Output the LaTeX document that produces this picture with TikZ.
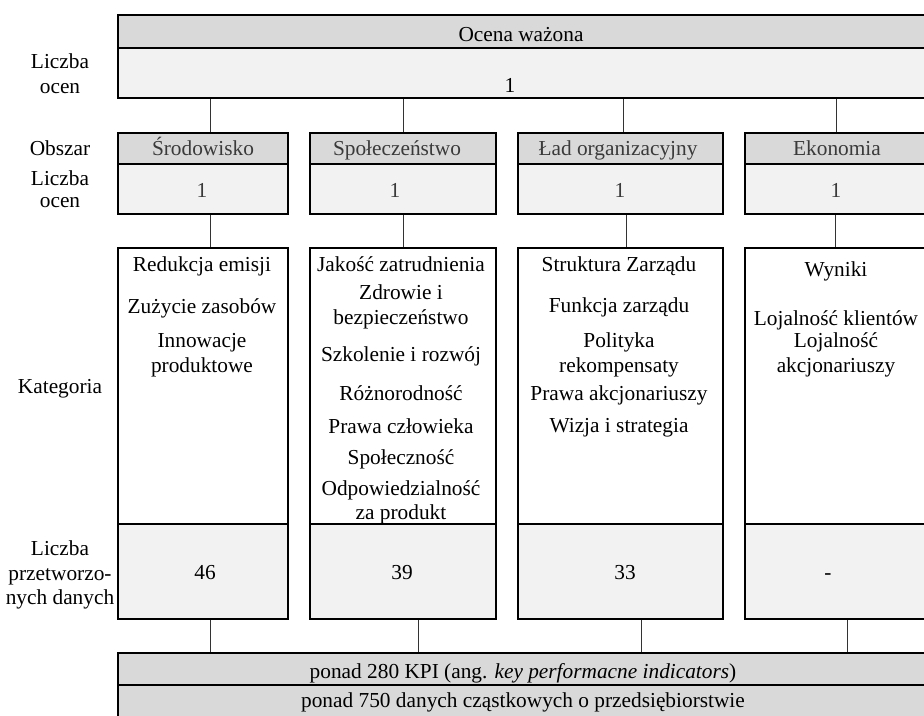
\documentclass[tikz,border=0pt]{standalone}
\usepackage{fontspec}
\setmainfont{Liberation Serif}
\definecolor{hdr}{HTML}{D9D9D9}
\definecolor{lite}{HTML}{F2F2F2}
\definecolor{conncol}{HTML}{333333}
\definecolor{areatxt}{HTML}{3A3A3A}
\begin{document}
\begin{tikzpicture}[x=0.75pt,y=-0.75pt,
  box/.style={draw=black, line width=1.5pt, inner sep=0pt, anchor=north west},
  conn/.style={draw=conncol, line width=0.75pt},
  t/.style={font=\fontsize{16pt}{18.75pt}\selectfont, inner sep=0pt, anchor=base},
  ta/.style={t, text=areatxt}]
\useasboundingbox (0,0) rectangle (924,715);
% top box
\node[box, fill=hdr, minimum width=609.75pt, minimum height=24.75pt] (top1) at (117,14) {};
\node[box, fill=lite, minimum width=609.75pt, minimum height=37.5pt] (top2) at (117,47) {};
\node[t] (toptxt) at (521,41) {Ocena ważona};
\node[t] (topone) at (510,92) {1};
\node[t] (lab1a) at (60,68) {Liczba};
\node[t] (lab1b) at (60,93) {ocen};
% area boxes
\node[box, fill=hdr, minimum width=127.5pt, minimum height=23.5pt] (a1h) at (117,131.7) {};
\node[box, fill=lite, minimum width=127.5pt, minimum height=37.5pt] (a1n) at (117,163) {};
\node[box, fill=hdr, minimum width=139.5pt, minimum height=23.5pt] (a2h) at (309,131.7) {};
\node[box, fill=lite, minimum width=139.5pt, minimum height=37.5pt] (a2n) at (309,163) {};
\node[box, fill=hdr, minimum width=153.75pt, minimum height=23.5pt] (a3h) at (517,131.7) {};
\node[box, fill=lite, minimum width=153.75pt, minimum height=37.5pt] (a3n) at (517,163) {};
\node[box, fill=hdr, minimum width=139.5pt, minimum height=23.5pt] (a4h) at (744,131.7) {};
\node[box, fill=lite, minimum width=139.5pt, minimum height=37.5pt] (a4n) at (744,163) {};
\node[ta] (a1t) at (203,155) {Środowisko};
\node[ta] (a2t) at (397,155) {Społeczeństwo};
\node[ta] (a3t) at (618,155) {Ład organizacyjny};
\node[ta] (a4t) at (837,155) {Ekonomia};
\node[ta] (a1o) at (202,197) {1};
\node[ta] (a2o) at (395,197) {1};
\node[ta] (a3o) at (620,197) {1};
\node[ta] (a4o) at (836,197) {1};
\node[t] (lab2) at (60,155) {Obszar};
\node[t] (lab3a) at (60,185) {Liczba};
\node[t] (lab3b) at (60,207) {ocen};
% category boxes
\node[box, fill=white, minimum width=127.5pt, minimum height=207pt] (c1) at (117,247) {};
\node[box, fill=white, minimum width=139.5pt, minimum height=207pt] (c2) at (309,247) {};
\node[box, fill=white, minimum width=153.75pt, minimum height=207pt] (c3) at (517,247) {};
\node[box, fill=white, minimum width=139.5pt, minimum height=207pt] (c4) at (744,247) {};
\node[t] (lab4) at (60,393) {Kategoria};
% column 1
\node[t] (c1a) at (202,271) {Redukcja emisji};
\node[t] (c1b) at (202,313) {Zużycie zasobów};
\node[t] (c1c) at (202,347) {Innowacje};
\node[t] (c1d) at (202,372) {produktowe};
% column 2
\node[t] (c2a) at (401,271) {Jakość zatrudnienia};
\node[t] (c2b) at (401,299) {Zdrowie i};
\node[t] (c2c) at (401,324) {bezpieczeństwo};
\node[t] (c2d) at (401,361) {Szkolenie i rozwój};
\node[t] (c2e) at (401,400) {Różnorodność};
\node[t] (c2f) at (401,433) {Prawa człowieka};
\node[t] (c2g) at (401,464) {Społeczność};
\node[t] (c2h) at (401,495) {Odpowiedzialność};
\node[t] (c2i) at (401,519) {za produkt};
% column 3
\node[t] (c3a) at (619,271) {Struktura Zarządu};
\node[t] (c3b) at (619,312) {Funkcja zarządu};
\node[t] (c3c) at (619,347) {Polityka};
\node[t] (c3d) at (619,372) {rekompensaty};
\node[t] (c3e) at (619,400) {Prawa akcjonariuszy};
\node[t] (c3f) at (619,432) {Wizja i strategia};
% column 4
\node[t] (c4a) at (836,276) {Wyniki};
\node[t] (c4b) at (836,325) {Lojalność klientów};
\node[t] (c4c) at (836,347) {Lojalność};
\node[t] (c4d) at (836,372) {akcjonariuszy};
% number boxes
\node[box, fill=lite, minimum width=127.5pt, minimum height=71.6pt] (n1) at (117,523) {};
\node[box, fill=lite, minimum width=139.5pt, minimum height=71.6pt] (n2) at (309,523) {};
\node[box, fill=lite, minimum width=153.75pt, minimum height=71.6pt] (n3) at (517,523) {};
\node[box, fill=lite, minimum width=139.5pt, minimum height=71.6pt] (n4) at (744,523) {};
\node[t] (n1t) at (205,579) {46};
\node[t] (n2t) at (402,579) {39};
\node[t] (n3t) at (625,579) {33};
\node[t] (n4t) at (828,579) {-};
\node[t] (lab5a) at (60,555) {Liczba};
\node[t] (lab5b) at (60,580) {przetworzo-};
\node[t] (lab5c) at (60,604) {nych danych};
% bottom box
\node[box, fill=hdr, minimum width=609.75pt, minimum height=24pt] (b1) at (117,652) {};
\node[box, fill=hdr, minimum width=609.75pt, minimum height=60pt] (b2) at (117,684) {};
\node[t] (b1t) at (523,678) {ponad 280 KPI (ang. \textit{key performacne indicators})};
\node[t] (b2t) at (523,707) {ponad 750 danych cząstkowych o przedsiębiorstwie};
% connector x positions
\coordinate (k1) at (210,0);
\coordinate (k2) at (403,0);
\coordinate (k3) at (623,0);
\coordinate (k4) at (836,0);
\coordinate (m3) at (626,0);
\coordinate (m4) at (835,0);
\coordinate (q2) at (418,0);
\coordinate (q3) at (641,0);
\coordinate (q4) at (847,0);
\draw[conn] (k1 |- top2.south) -- (k1 |- a1h.north);
\draw[conn] (k2 |- top2.south) -- (k2 |- a2h.north);
\draw[conn] (k3 |- top2.south) -- (k3 |- a3h.north);
\draw[conn] (k4 |- top2.south) -- (k4 |- a4h.north);
\draw[conn] (k1 |- a1n.south) -- (k1 |- c1.north);
\draw[conn] (k2 |- a2n.south) -- (k2 |- c2.north);
\draw[conn] (m3 |- a3n.south) -- (m3 |- c3.north);
\draw[conn] (m4 |- a4n.south) -- (m4 |- c4.north);
\draw[conn] (k1 |- n1.south) -- (k1 |- b1.north);
\draw[conn] (q2 |- n2.south) -- (q2 |- b1.north);
\draw[conn] (q3 |- n3.south) -- (q3 |- b1.north);
\draw[conn] (q4 |- n4.south) -- (q4 |- b1.north);
\end{tikzpicture}
\end{document}
